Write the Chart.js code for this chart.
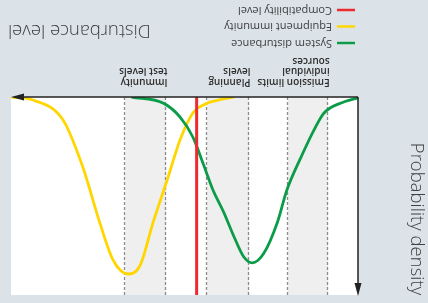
<!DOCTYPE html>
<html><head><meta charset="utf-8">
<script src="https://cdn.jsdelivr.net/npm/chart.js@4.4.1/dist/chart.umd.min.js"></script>
<style>
html,body{margin:0;padding:0;background:#dce3e8;overflow:hidden;}
#wrap{width:428px;height:303px;transform:rotate(180deg);background:#dce3e8;}
canvas{display:block;}
</style></head><body>
<div id="wrap"><canvas id="c" width="428" height="303"></canvas></div>
<script>
const seriesNames = ["System disturbance", "Equipment immunity", "Compatibility level"];
const disturbanceX = [0, 4.9, 9.8, 12.7, 16.4, 20.5, 23.3, 27.1, 30.5, 32.9, 35.7, 38.6, 41.8, 44.7, 47.6, 51.3, 56.2, 65.3];
const disturbanceY = [0.5, 3.0, 8.1, 16.7, 30.3, 47.0, 63.6, 78.8, 83.8, 80.8, 70.7, 58.6, 47.0, 33.3, 20.2, 10.1, 3.0, 0];
const immunityX = [35.7, 40.0, 43.5, 47.6, 51.3, 55.0, 59.1, 62.8, 66.3, 70.6, 74.4, 79.3, 85.0, 93.7, 100];
const immunityY = [0, 1.5, 3.2, 8.1, 21.7, 41.9, 63.6, 85.0, 89.4, 82.3, 63.6, 35.4, 11.6, 1.5, 0];
const compatibilityLevel = 46.5;
const bandEdges = [8.6, 20.2, 31.4, 43.5, 55.3, 67.1];
const bandLabels = [["Emission limits", "individual", "sources"], ["Planning", "levels"], ["Immunity", "test levels"]];
const xTitle = "Disturbance level";
const yTitle = "Probability density";
const colors = ["#0a9c48", "#ffd600", "#ee2a2e"];

const pts = (xs, ys) => xs.map((v, i) => ({x: v, y: ys[i]}));

const deco = {
  id: 'deco',
  beforeDatasetsDraw(chart) {
    const {ctx, chartArea: a, scales: {x}} = chart;
    ctx.save();
    ctx.fillStyle = '#ffffff';
    ctx.fillRect(a.left, a.top, a.right - a.left, a.bottom - a.top);
    ctx.fillStyle = '#efefef';
    for (let i = 0; i < bandEdges.length; i += 2) {
      const x0 = x.getPixelForValue(bandEdges[i]), x1 = x.getPixelForValue(bandEdges[i + 1]);
      ctx.fillRect(x0, a.top, x1 - x0, a.bottom - a.top);
    }
    ctx.strokeStyle = '#8c8c8c';
    ctx.lineWidth = 1.3;
    ctx.setLineDash([3, 2]);
    bandEdges.forEach(v => {
      const px = Math.round(x.getPixelForValue(v)) + 0.5;
      ctx.beginPath(); ctx.moveTo(px, a.top); ctx.lineTo(px, a.bottom); ctx.stroke();
    });
    ctx.restore();
  },
  afterDatasetsDraw(chart) {
    const {ctx, chartArea: a, scales: {x}} = chart;
    ctx.save();
    // axes
    ctx.strokeStyle = '#222'; ctx.fillStyle = '#222'; ctx.lineWidth = 1.5;
    ctx.beginPath(); ctx.moveTo(a.left, a.bottom); ctx.lineTo(a.right - 8, a.bottom); ctx.stroke();
    ctx.beginPath(); ctx.moveTo(a.left, a.bottom); ctx.lineTo(a.left, a.top + 8); ctx.stroke();
    ctx.beginPath(); ctx.moveTo(a.right, a.bottom); ctx.lineTo(a.right - 13, a.bottom - 3.5); ctx.lineTo(a.right - 13, a.bottom + 3.5); ctx.closePath(); ctx.fill();
    ctx.beginPath(); ctx.moveTo(a.left, a.top - 1); ctx.lineTo(a.left - 3.5, a.top + 12); ctx.lineTo(a.left + 3.5, a.top + 12); ctx.closePath(); ctx.fill();
    // band labels
    ctx.fillStyle = '#2e2e2e';
    ctx.font = "600 10px 'Open Sans'";
    ctx.textAlign = 'left'; ctx.textBaseline = 'alphabetic';
    for (let i = 0; i < bandLabels.length; i++) {
      const px = x.getPixelForValue(bandEdges[i * 2]) - 1.5;
      bandLabels[i].forEach((t, j) => ctx.fillText(t, px, a.bottom + 18 + j * 10.5));
    }
    // legend
    ctx.font = "11px 'Open Sans'";
    ctx.textBaseline = 'middle';
    seriesNames.forEach((n, i) => {
      const yy = 260 + i * 16.5;
      ctx.strokeStyle = colors[i]; ctx.lineWidth = 2.5;
      ctx.beginPath(); ctx.moveTo(73, yy); ctx.lineTo(91, yy); ctx.stroke();
      ctx.fillStyle = '#3c3c3c';
      ctx.fillText(n, 96, yy);
    });
    // titles
    ctx.fillStyle = '#404040';
    ctx.font = "300 18.5px 'Open Sans'";
    ctx.textAlign = 'right'; ctx.textBaseline = 'alphabetic';
    ctx.fillText(xTitle, 420, 278);
    ctx.translate(17, 84); ctx.rotate(-Math.PI / 2);
    ctx.textAlign = 'center';
    ctx.fillText(yTitle, 0, 0);
    ctx.restore();
  }
};

new Chart(document.getElementById('c'), {
  type: 'line',
  data: {
    datasets: [
      {label: seriesNames[2], data: [{x: compatibilityLevel, y: 0}, {x: compatibilityLevel, y: 100}], borderColor: colors[2], borderWidth: 3, pointRadius: 0, order: 0},
      {label: seriesNames[1], data: pts(immunityX, immunityY), borderColor: colors[1], borderWidth: 2.8, pointRadius: 0, cubicInterpolationMode: 'monotone', order: 2},
      {label: seriesNames[0], data: pts(disturbanceX, disturbanceY), borderColor: colors[0], borderWidth: 2.8, pointRadius: 0, cubicInterpolationMode: 'monotone', order: 1}
    ]
  },
  options: {
    responsive: false,
    animation: false,
    devicePixelRatio: 1,
    layout: {padding: {left: 70, right: 11, top: 8, bottom: 97}},
    scales: {
      x: {type: 'linear', min: 0, max: 100, display: false},
      y: {type: 'linear', min: 0, max: 100, display: false}
    },
    plugins: {legend: {display: false}, tooltip: {enabled: false}}
  },
  plugins: [deco]
});
</script>
</body></html>
